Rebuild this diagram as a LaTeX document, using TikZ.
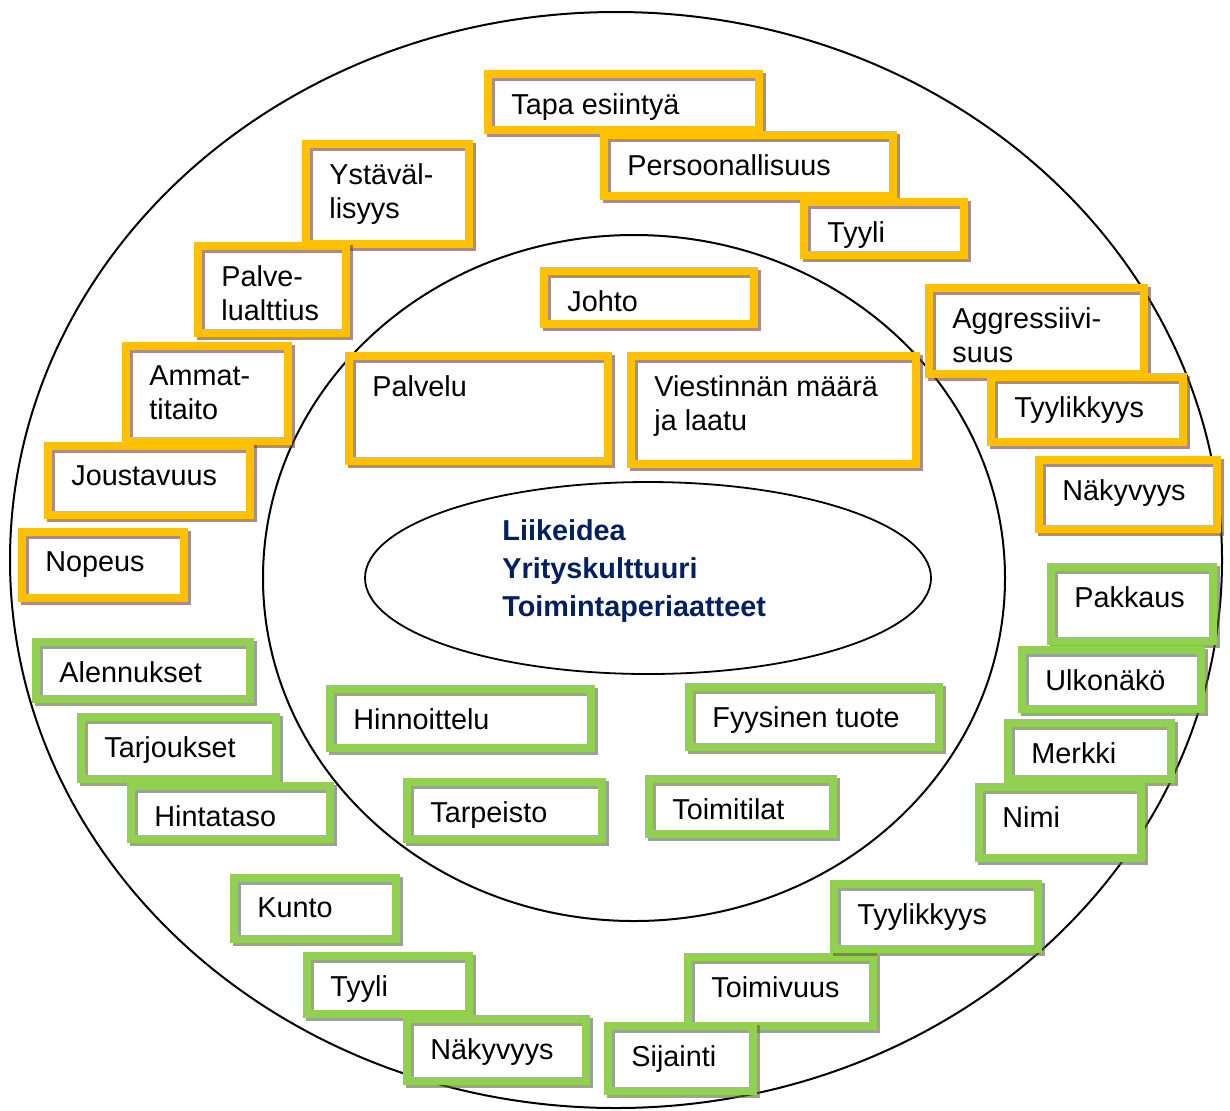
\documentclass[tikz,border=0pt]{standalone}
\usepackage{fontspec}
\setmainfont{Liberation Sans}

\definecolor{keltainen}{HTML}{FFC000}
\definecolor{vihrea}{HTML}{92D050}
\definecolor{kvarjo}{rgb}{0.45,0.25,0.25}
\definecolor{vvarjo}{rgb}{0.35,0.40,0.30}
\definecolor{tummansininen}{HTML}{002060}

\begin{document}
\begin{tikzpicture}[x=0.5pt,y=-0.5pt,
    kehys/.style={line width=4pt,draw=#1},
    varjo/.style={line width=4pt,draw=#1,opacity=0.6},
    teksti/.style={anchor=north west,inner sep=0pt,align=left,
        font=\fontsize{14.4pt}{17pt}\selectfont}]
    \useasboundingbox (0,0) rectangle (1230,1110);

    % renkaat
    \draw[line width=1pt] (616,560) ellipse [x radius=606,y radius=548];
    \draw[line width=1pt] (634,578) ellipse [x radius=371,y radius=343];
    \draw[line width=0.9pt] (648,578) ellipse [x radius=283,y radius=96];
    \node[anchor=north west,inner sep=0pt,align=left,text=tummansininen,
        font=\fontsize{14.4pt}{19pt}\selectfont\bfseries] (ydin) at (502,519)
        {Liikeidea\\Yrityskulttuuri\\Toimintaperiaatteet};

    % keltaiset laatikot
    \foreach \xa/\ya/\xb/\yb/\sana [count=\n] in {
        488/74/759/130/{Tapa esiintyä},
        604/135/893/196/{Persoonallisuus},
        804/202/964/255/{Tyyli},
        306/144/469/244/{Ystäväl-\\lisyys},
        198/246/346/333/{Palve-\\lualttius},
        126/346/288/441/{Ammat-\\titaito},
        48/446/250/515/{Joustavuus},
        22/532/184/598/{Nopeus},
        544/271/754/324/{Johto},
        349/356/608/461/{Palvelu},
        631/356/916/464/{Viestinnän määrä\\ja laatu},
        929/288/1144/374/{Aggressiivi-\\suus},
        991/377/1183/442/{Tyylikkyys},
        1039/460/1217/529/{Näkyvyys}}{
        \fill[white] (\xa,\ya) rectangle (\xb,\yb);
        \draw[varjo=kvarjo] (\xa+3,\ya+3) rectangle (\xb+3,\yb+3);
        \draw[kehys=keltainen] (\xa,\ya) rectangle (\xb,\yb);
        \node[teksti] (k\n) at (\xa+23,\ya+19) {\sana};
    }

    % vihreät laatikot
    \foreach \xa/\ya/\xb/\yb/\sana [count=\n] in {
        1051/567/1213/641/{Pakkaus},
        1022/650/1201/709/{Ulkonäkö},
        1008/723/1171/779/{Merkki},
        979/787/1141/858/{Nimi},
        36/642/250/699/{Alennukset},
        81/717/276/779/{Tarjoukset},
        131/786/330/839/{Hintataso},
        330/689/591/748/{Hinnoittelu},
        689/687/939/747/{Fyysinen tuote},
        407/782/602/839/{Tarpeisto},
        649/779/833/834/{Toimitilat},
        234/878/396/939/{Kunto},
        307/956/469/1014/{Tyyli},
        407/1019/586/1081/{Näkyvyys},
        688/957/873/1026/{Toimivuus},
        834/884/1038/949/{Tyylikkyys},
        608/1026/753/1091/{Sijainti}}{
        \fill[white] (\xa,\ya) rectangle (\xb,\yb);
        \draw[varjo=vvarjo] (\xa+3,\ya+3) rectangle (\xb+3,\yb+3);
        \draw[kehys=vihrea] (\xa,\ya) rectangle (\xb,\yb);
        \node[teksti] (v\n) at (\xa+23,\ya+19) {\sana};
    }
\end{tikzpicture}
\end{document}
